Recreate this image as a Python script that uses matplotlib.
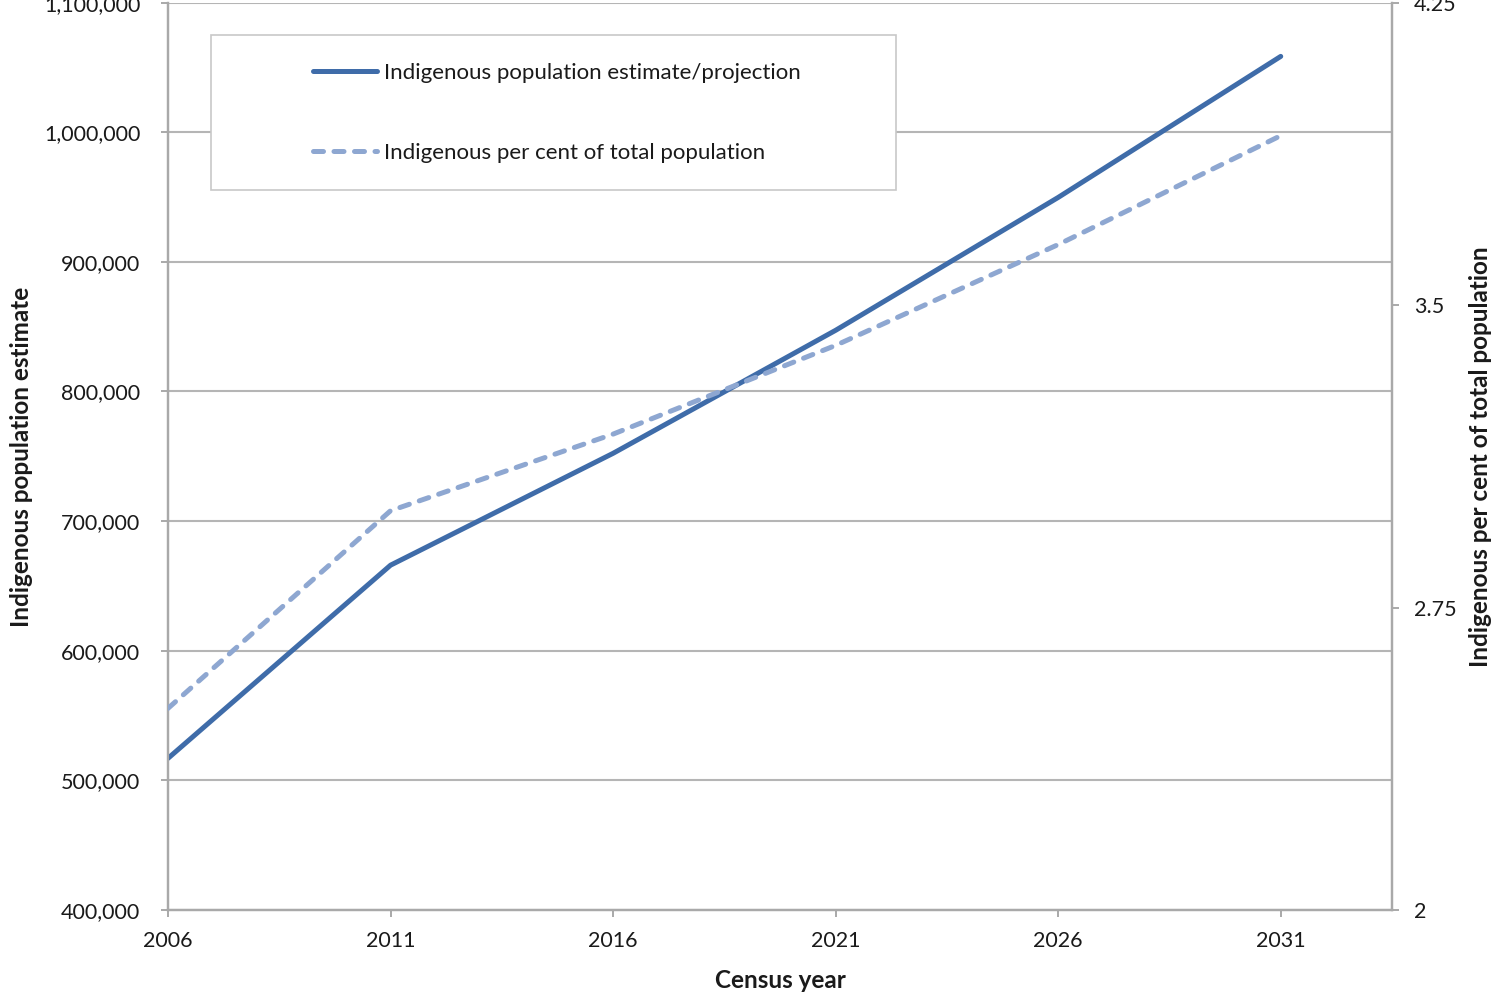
#!/usr/bin/env python3
"""
Indigenous population estimate/projection and Indigenous share of the
total population by census year, on twin y axes.
"""

import matplotlib
matplotlib.use("Agg")
import matplotlib.pyplot as plt
from matplotlib.patches import Rectangle
from matplotlib.ticker import FuncFormatter

years = [2006, 2011, 2016, 2021, 2026, 2031]
population = [517000, 666000, 752300, 847200, 949700, 1058500]
per_cent = [2.50, 2.99, 3.18, 3.40, 3.65, 3.92]

left_ticks = [400000, 500000, 600000, 700000, 800000, 900000, 1000000, 1100000]
right_ticks = [2, 2.75, 3.5, 4.25]

SOLID = "#3f6ca9"
DASHED = "#8ea7d1"
AXIS_GREY = "#a9a9a9"
TEXT = "#1a1a1a"

plt.rcParams["font.family"] = ["Lato", "DejaVu Sans"]
plt.rcParams["font.size"] = 15.5

W, H = 1496, 994
fig = plt.figure(figsize=(W / 100, H / 100), dpi=100)

# axes box in pixels: left 168, right 1392, bottom 910, top ~2.6
ax = fig.add_axes([168 / W, 1 - 910 / H, (1392 - 168) / W, (910 - 2.6) / H])
ax2 = ax.twinx()

ax.set_xlim(2006, 2033.5)
ax.set_ylim(400000, 1100000)
ax2.set_ylim(2, 4.25)

ax.plot(years, population, color=SOLID, lw=3.6, solid_capstyle="round",
        label="Indigenous population estimate/projection", zorder=3)
ax2.plot(years, per_cent, color=DASHED, lw=3.6, dash_capstyle="round",
         dashes=(2.0, 2.1), label="Indigenous per cent of total population",
         zorder=3)

ax.set_xticks(years)
ax.set_yticks(left_ticks)
ax.yaxis.set_major_formatter(FuncFormatter(lambda v, p: f"{int(v):,}"))
ax2.set_yticks(right_ticks)
ax2.set_yticklabels(["2", "2.75", "3.5", "4.25"])

ax.grid(True, axis="y", color="#b5b5b5", lw=1.5)
ax.set_axisbelow(True)

for a in (ax, ax2):
    a.spines["top"].set_visible(False)
    for side in ("left", "right", "bottom"):
        a.spines[side].set_color(AXIS_GREY)
        a.spines[side].set_linewidth(1.6)
    a.tick_params(colors=AXIS_GREY, labelcolor=TEXT, width=1.4, length=5,
                  direction="out")
ax.tick_params(axis="y", pad=15)
ax.tick_params(axis="x", pad=10)
ax2.tick_params(axis="y", pad=11)

fig.text(22 / W, 1 - 457 / H, "Indigenous population estimate", rotation=90,
         ha="center", va="center", fontweight="bold", color=TEXT, fontsize=17.5)
fig.text(1481 / W, 1 - 457 / H, "Indigenous per cent of total population",
         rotation=90, ha="center", va="center", fontweight="bold", color=TEXT,
         fontsize=17.5)
fig.text(780 / W, 1 - 980 / H, "Census year", ha="center", va="center",
         fontweight="bold", color=TEXT, fontsize=17.5)

# legend box drawn as its own patch so the padding can be set freely
box = Rectangle((211 / W, 1 - 190 / H), (896 - 211) / W, (190 - 35) / H,
                transform=fig.transFigure, facecolor="white",
                edgecolor="#c8c8c8", lw=1.2, zorder=5, clip_on=False)
ax2.add_patch(box)

h1, l1 = ax.get_legend_handles_labels()
h2, l2 = ax2.get_legend_handles_labels()
leg = ax2.legend(h1 + h2, l1 + l2, loc="upper left",
                 bbox_to_anchor=(313 / W, 1 - 63 / H),
                 bbox_transform=fig.transFigure, frameon=False,
                 borderpad=0, borderaxespad=0, handlelength=2.9,
                 handletextpad=0.3, labelspacing=2.7, fontsize=16)
leg.set_zorder(6)
for t in leg.get_texts():
    t.set_color(TEXT)

fig.savefig("out.png", dpi=100)
